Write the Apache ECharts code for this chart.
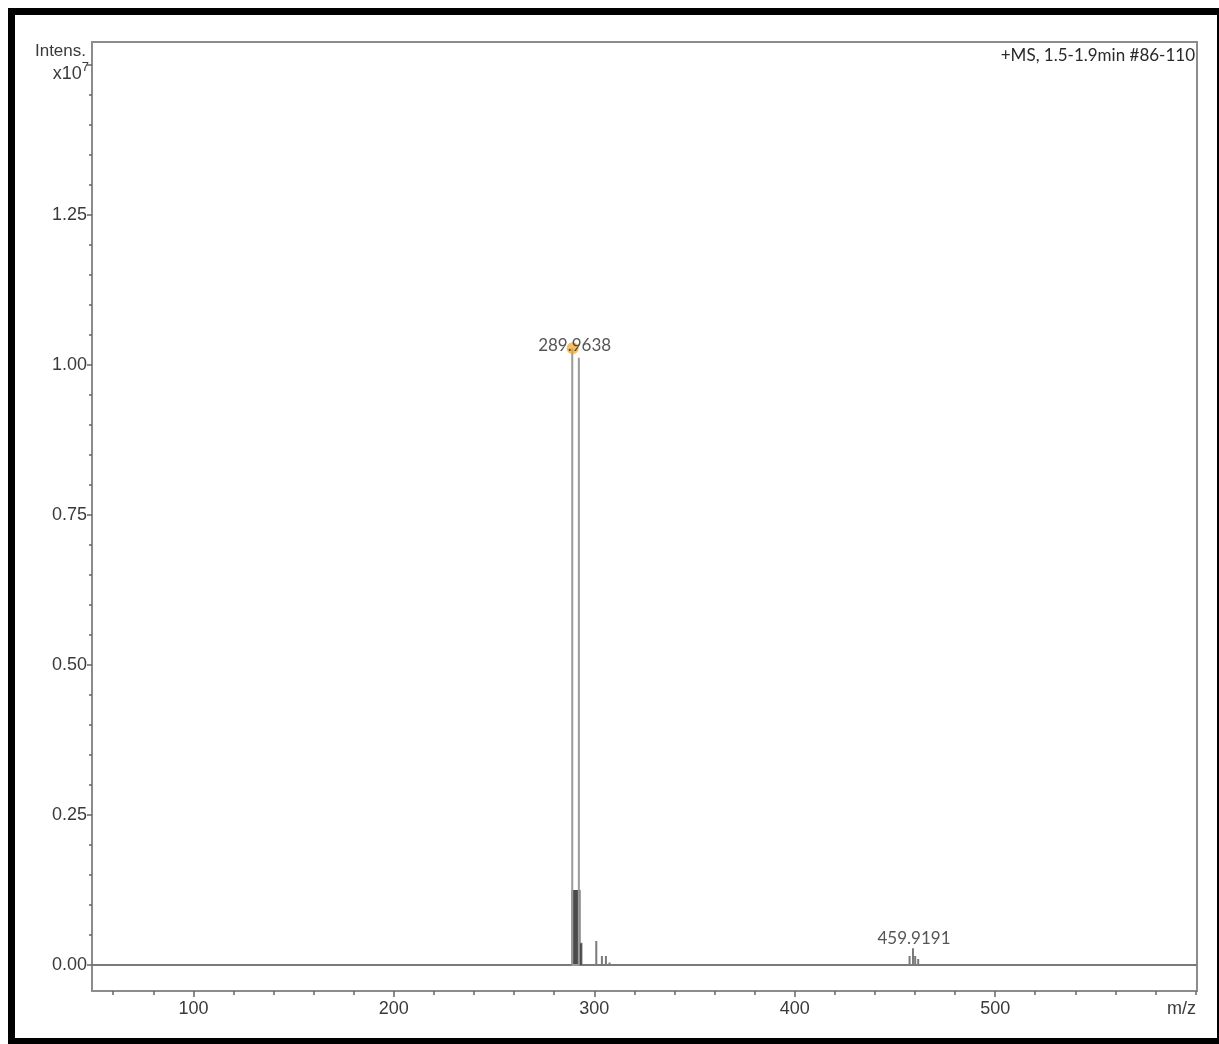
<!DOCTYPE html>
<html>
<head>
<meta charset="utf-8">
<script src="https://cdn.jsdelivr.net/npm/echarts@6/dist/echarts.min.js"></script>
<style>html,body{margin:0;padding:0;background:#fff;}#c{width:1219px;height:1044px;}</style>
</head>
<body>
<div id="c"></div>
<script>
// ---- data (m/z, intensity x10^7) ----
const xRange = [49.4, 600.7];
const yRange = [-0.0433, 1.5383];
const xLabelTicks = [100, 200, 300, 400, 500];
const xMinorTicks = [60, 80, 120, 140, 160, 180, 220, 240, 260, 280, 320, 340, 360, 380, 420, 440, 460, 480, 520, 540, 560, 580, 600];
const yLabelTicks = [0, 0.25, 0.5, 0.75, 1.0, 1.25];
const yMajorTicks = [0, 0.25, 0.5, 0.75, 1.0, 1.25, 1.5];
const yMinorTicks = [0.05, 0.1, 0.15, 0.2, 0.3, 0.35, 0.4, 0.45, 0.55, 0.6, 0.65, 0.7, 0.8, 0.85, 0.9, 0.95, 1.05, 1.1, 1.15, 1.2, 1.3, 1.35, 1.4, 1.45];

// main isotope peak outline (light grey)
const mainPeakMz = [289.0, 292.3];
const mainPeakInt = [1.028, 1.012];
// dense dark foot of the main peak
const footMz = [289.2, 289.5, 289.8, 290.1, 290.4, 290.7, 291.0, 291.3, 291.6, 291.9, 292.2, 292.5, 292.8, 293.1];
const footInt = [0.125, 0.125, 0.125, 0.125, 0.125, 0.125, 0.125, 0.125, 0.125, 0.125, 0.125, 0.125, 0.036, 0.036];
// other peaks
const peakMz = [293.6, 301.0, 303.8, 305.8, 307.6, 309.5, 457.3, 459.0, 460.1, 461.6,
                108.0, 135.4, 139.5, 149.5, 163.0, 168.0, 171.0, 184.0, 206.0, 209.0, 241.0, 243.0, 320.0, 335.0];
const peakInt = [0.037, 0.040, 0.015, 0.015, 0.004, 0.003, 0.015, 0.028, 0.015, 0.010,
                 0.002, 0.002, 0.001, 0.001, 0.002, 0.002, 0.002, 0.002, 0.001, 0.001, 0.001, 0.001, 0.001, 0.001];

const annotations = [
  {mz: 289.2, int: 1.028, text: '289.9638', dot: true},
  {mz: 459.0, int: 0.028, text: '459.9191', dot: false}
];

function sticks(mz, it) {
  const pts = [];
  const order = mz.map((m, i) => i).sort((a, b) => mz[a] - mz[b]);
  order.forEach(i => { pts.push([mz[i], 0], [mz[i], it[i]], [mz[i], 0]); });
  return pts;
}
const baseline = [[xRange[0], 0]].concat(sticks(peakMz, peakInt)).concat([[xRange[1], 0]]);

const chart = echarts.init(document.getElementById('c'));
const axisGrey = '#8c8c8c';
const labelFont = {fontFamily: 'Liberation Sans', fontSize: 18, color: '#3a3a3a'};

chart.setOption({
  animation: false,
  backgroundColor: '#fff',
  grid: {left: 92, right: 22, top: 42, bottom: 53, show: true, borderColor: axisGrey, borderWidth: 2, containLabel: false},
  xAxis: [
    {type: 'value', min: xRange[0], max: xRange[1], gridIndex: 0, position: 'bottom',
     axisLine: {show: true, onZero: false, lineStyle: {color: axisGrey, width: 2}},
     axisTick: {show: true, inside: false, customValues: xLabelTicks, length: 6, lineStyle: {color: '#666', width: 1.5}},
     axisLabel: Object.assign({show: true, customValues: xLabelTicks, margin: 9}, labelFont),
     splitLine: {show: false}},
    {type: 'value', min: xRange[0], max: xRange[1], gridIndex: 0, position: 'bottom', offset: 0,
     axisLine: {show: false, onZero: false},
     axisTick: {show: true, inside: false, customValues: xMinorTicks, length: 4, lineStyle: {color: '#666', width: 1.5}},
     axisLabel: {show: false}, splitLine: {show: false}}
  ],
  yAxis: [
    {type: 'value', min: yRange[0], max: yRange[1],
     axisLine: {show: true, onZero: false, lineStyle: {color: axisGrey, width: 2}},
     axisTick: {show: true, customValues: yMajorTicks, length: 5, lineStyle: {color: '#666', width: 1.5}},
     axisLabel: Object.assign({show: true, customValues: yLabelTicks, margin: 5, formatter: v => v.toFixed(2)}, labelFont),
     splitLine: {show: false}},
    {type: 'value', min: yRange[0], max: yRange[1], position: 'left',
     axisLine: {show: false, onZero: false},
     axisTick: {show: true, customValues: yMinorTicks, length: 3, lineStyle: {color: '#666', width: 1.5}},
     axisLabel: {show: false}, splitLine: {show: false}}
  ],
  series: [
    {type: 'line', data: baseline, symbol: 'none', lineStyle: {color: '#7a7a7a', width: 2}, z: 3},
    {type: 'line', data: sticks(footMz, footInt), symbol: 'none', lineStyle: {color: '#4a4a4a', width: 2.5}, z: 4},
    {type: 'line', data: sticks(mainPeakMz, mainPeakInt), symbol: 'none', lineStyle: {color: '#9a9a9a', width: 2}, z: 5},
    {type: 'scatter', z: 6,
     data: annotations.map(a => ({value: [a.mz, a.int], symbolSize: a.dot ? 12 : 0,
        label: {show: true, formatter: a.text, position: a.dot ? 'inside' : 'top', offset: a.dot ? [2, -3] : [1, 4],
                fontFamily: 'Lato', fontSize: 17, color: '#2a2a2a'}})),
     itemStyle: {color: 'rgba(242,166,40,0.9)'},
     label: {show: true}}
  ],
  graphic: [
    {type: 'rect', shape: {x: 11.5, y: 11.5, width: 1209, height: 1030}, style: {fill: 'none', stroke: '#000', lineWidth: 7}, z: 100},
    {type: 'text', x: 86, y: 51, style: {text: 'Intens.', align: 'right', verticalAlign: 'middle', fontFamily: 'Liberation Sans', fontSize: 17, fill: '#3a3a3a'}},
    {type: 'text', x: 89, y: 72, style: {text: '{a|x10}{b|7}', align: 'right', verticalAlign: 'middle',
        rich: {a: {fontFamily: 'Liberation Sans', fontSize: 18, fill: '#3a3a3a', verticalAlign: 'bottom'},
               b: {fontFamily: 'Liberation Sans', fontSize: 13, fill: '#3a3a3a', verticalAlign: 'top', padding: [0, 0, 10, 0]}}}},
    {type: 'text', x: 1195, y: 56, style: {text: '+MS, 1.5-1.9min #86-110', align: 'right', verticalAlign: 'middle', fontFamily: 'Lato', fontSize: 17, fill: '#2a2a2a'}},
    {type: 'text', x: 1196, y: 1009, style: {text: 'm/z', align: 'right', verticalAlign: 'middle', fontFamily: 'Liberation Sans', fontSize: 18, fill: '#3a3a3a'}}
  ]
});
</script>
</body>
</html>
